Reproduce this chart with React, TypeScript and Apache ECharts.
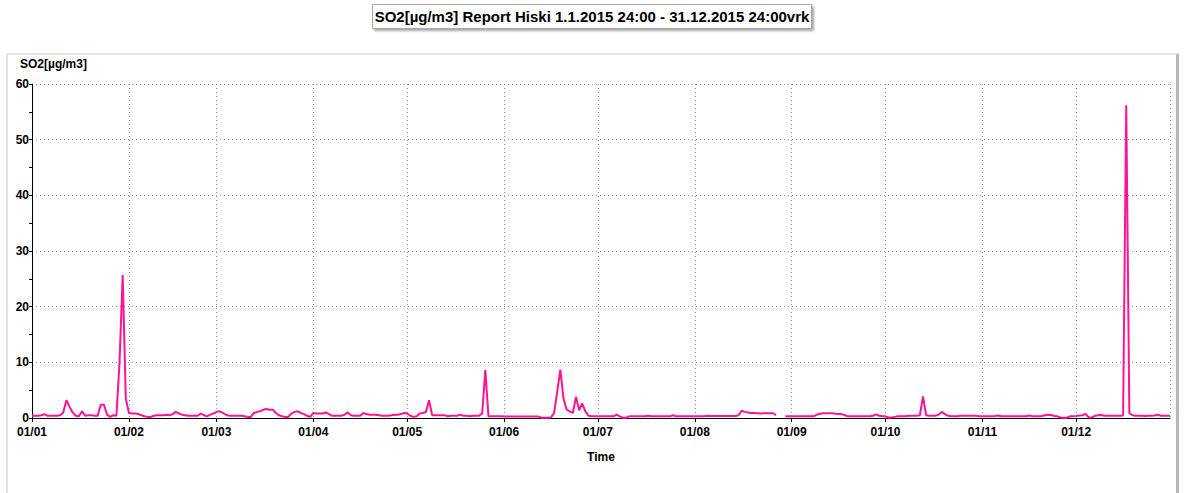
import React, { useEffect, useRef } from "react";
import * as echarts from "echarts";

const TITLE = "SO2[µg/m3] Report Hiski 1.1.2015 24:00 - 31.12.2015 24:00vrk";
const Y_NAME = "SO2[µg/m3]";
const X_NAME = "Time";
const YEAR = 2015;

const jan = [0.4, 0.4, 0.4, 0.5, 0.7, 0.4, 0.4, 0.4, 0.4, 0.5, 1.0, 3.2, 2.0, 1.0, 0.4, 0.3, 1.2, 0.4, 0.5, 0.5, 0.4, 0.4, 2.4, 2.4, 0.6, 0.2, 0.5, 0.4, 10, 25.7, 3.5];
const feb = [0.9, 0.8, 0.8, 0.7, 0.5, 0.3, 0.2, 0.2, 0.4, 0.5, 0.5, 0.5, 0.6, 0.5, 0.7, 1.1, 0.8, 0.6, 0.5, 0.4, 0.4, 0.4, 0.4, 0.8, 0.5, 0.3, 0.6, 0.8];
const mar = [1.1, 1.2, 0.9, 0.6, 0.4, 0.4, 0.4, 0.4, 0.4, 0.3, 0.2, 0.2, 0.9, 1.1, 1.2, 1.5, 1.6, 1.5, 1.5, 0.9, 0.5, 0.3, 0.2, 0.2, 0.8, 1.1, 1.2, 0.9, 0.7, 0.4, 0.2];
const apr = [0.9, 0.8, 0.8, 0.8, 1.0, 0.7, 0.4, 0.4, 0.4, 0.4, 0.6, 1.0, 0.5, 0.4, 0.4, 0.4, 0.9, 0.7, 0.6, 0.6, 0.6, 0.5, 0.4, 0.4, 0.4, 0.5, 0.6, 0.6, 0.7, 0.9];
const may = [0.8, 0.4, 0.2, 0.3, 0.8, 0.9, 1.1, 3.2, 0.5, 0.5, 0.5, 0.5, 0.5, 0.3, 0.4, 0.4, 0.4, 0.6, 0.4, 0.4, 0.3, 0.4, 0.4, 0.4, 0.8, 8.6, 0.3, 0.3, 0.3, 0.3, 0.3];
const jun = [0.25, 0.25, 0.25, 0.25, 0.25, 0.25, 0.25, 0.25, 0.25, 0.25, 0.25, 0.25, 0.05, 0.05, 0.05, 0.1, 0.9, 4.8, 8.7, 3.5, 1.5, 1.2, 0.9, 3.8, 1.4, 2.6, 1.2, 0.4, 0.3, 0.3];
const jul = [0.3, 0.3, 0.3, 0.3, 0.3, 0.3, 0.6, 0.3, 0.05, 0.05, 0.3, 0.3, 0.3, 0.3, 0.3, 0.3, 0.4, 0.3, 0.3, 0.3, 0.3, 0.3, 0.3, 0.3, 0.5, 0.3, 0.3, 0.3, 0.3, 0.3, 0.3];
const aug = [0.3, 0.3, 0.3, 0.3, 0.4, 0.35, 0.35, 0.35, 0.35, 0.35, 0.35, 0.35, 0.35, 0.35, 0.5, 1.3, 1.1, 1.0, 0.9, 0.9, 0.85, 0.8, 0.85, 0.85, 0.85, 0.85, 0.5, null, null, 0.3, 0.3];
const sep = [0.3, 0.3, 0.3, 0.3, 0.3, 0.3, 0.3, 0.3, 0.6, 0.75, 0.85, 0.85, 0.85, 0.85, 0.75, 0.7, 0.7, 0.5, 0.3, 0.3, 0.3, 0.3, 0.3, 0.3, 0.3, 0.3, 0.4, 0.65, 0.4, 0.3];
const oct = [0.3, 0.1, 0.1, 0.2, 0.3, 0.3, 0.3, 0.35, 0.4, 0.4, 0.4, 0.5, 3.9, 0.5, 0.4, 0.4, 0.4, 0.6, 1.1, 0.7, 0.4, 0.3, 0.3, 0.3, 0.4, 0.4, 0.4, 0.4, 0.4, 0.4, 0.3];
const nov = [0.3, 0.3, 0.3, 0.3, 0.35, 0.45, 0.3, 0.3, 0.3, 0.3, 0.3, 0.3, 0.3, 0.3, 0.3, 0.45, 0.3, 0.3, 0.3, 0.35, 0.5, 0.55, 0.55, 0.35, 0.3, 0.1, 0.05, 0.05, 0.3, 0.3];
const dec = [0.35, 0.45, 0.5, 0.75, 0.1, 0.1, 0.4, 0.5, 0.55, 0.4, 0.4, 0.4, 0.4, 0.4, 0.4, 0.45, 56.2, 0.9, 0.5, 0.4, 0.4, 0.4, 0.35, 0.4, 0.4, 0.45, 0.6, 0.4, 0.4, 0.4, 0.4];

const months: (number | null)[][] = [jan, feb, mar, apr, may, jun, jul, aug, sep, oct, nov, dec];

const Y_MIN = 0;
const Y_MAX = 60;
const Y_STEP = 10;

function buildData() {
  const out: [number, number | null][] = [];
  months.forEach((arr, m) => {
    arr.forEach((v, j) => {
      out.push([Date.UTC(YEAR, m, j + 1), v]);
    });
  });
  return out;
}

const pad = (n: number) => (n < 10 ? "0" + n : "" + n);

export default function App() {
  const ref = useRef<HTMLDivElement>(null);

  useEffect(() => {
    if (!ref.current) return;
    const chart = echarts.init(ref.current, null, { renderer: "svg" });
    const font = "Arial, 'Liberation Sans', sans-serif";
    chart.setOption({
      animation: false,
      useUTC: true,
      backgroundColor: "#ffffff",
      title: {
        text: TITLE,
        left: "center",
        top: 4,
        padding: [5, 2, 5, 2],
        backgroundColor: "#ffffff",
        borderColor: "#a8a8a8",
        borderWidth: 1,
        shadowColor: "rgba(0,0,0,0.35)",
        shadowBlur: 2,
        shadowOffsetX: 2,
        shadowOffsetY: 2,
        textStyle: {
          fontFamily: font,
          fontSize: 15,
          fontWeight: "bold",
          color: "#000",
        },
      },
      graphic: [
        {
          type: "rect",
          silent: true,
          z: -10,
          shape: { x: 7, y: 54, width: 1170, height: 460 },
          style: { fill: "none", stroke: "#e4e4e4", lineWidth: 2 },
        },
        {
          type: "rect",
          silent: true,
          z: -10,
          shape: { x: 1176, y: 54, width: 3, height: 440 },
          style: { fill: "#b8b8b8" },
        },
      ],
      grid: { left: 32, right: 14, top: 84, bottom: 75, containLabel: false },
      xAxis: {
        type: "time",
        min: Date.UTC(YEAR, 0, 1),
        max: Date.UTC(YEAR, 11, 31),
        splitNumber: 12,
        minInterval: 28 * 86400000,
        maxInterval: 31 * 86400000,
        name: X_NAME,
        nameLocation: "middle",
        nameGap: 33,
        nameTextStyle: { fontFamily: font, fontSize: 12, fontWeight: "bold", color: "#000" },
        axisLine: { show: true, lineStyle: { color: "#000", width: 1 } },
        axisTick: { show: true, length: 4, lineStyle: { color: "#000" } },
        axisLabel: {
          fontFamily: font,
          fontSize: 12,
          fontWeight: "bold",
          color: "#000",
          margin: 8,
          showMaxLabel: false,
          hideOverlap: false,
          formatter: (v: number) => {
            const d = new Date(v);
            return pad(d.getUTCDate()) + "/" + pad(d.getUTCMonth() + 1);
          },
        },
        splitLine: { show: true, lineStyle: { color: "#999999", width: 1, type: [1, 3] } },
      },
      yAxis: {
        type: "value",
        min: Y_MIN,
        max: Y_MAX,
        interval: Y_STEP,
        name: Y_NAME,
        nameLocation: "end",
        nameGap: 14,
        nameTextStyle: {
          fontFamily: font,
          fontSize: 12,
          fontWeight: "bold",
          color: "#000",
          align: "left",
          padding: [0, 0, 0, -12],
        },
        axisLine: { show: true, lineStyle: { color: "#000", width: 1 } },
        axisTick: { show: true, length: 3, lineStyle: { color: "#000" } },
        minorTick: { show: true, splitNumber: 2, length: 3, lineStyle: { color: "#000" } },
        axisLabel: {
          fontFamily: font,
          fontSize: 12,
          fontWeight: "bold",
          color: "#000",
          margin: 3,
        },
        splitLine: { show: true, lineStyle: { color: "#999999", width: 1, type: [1, 3] } },
      },
      series: [
        {
          type: "line",
          data: buildData(),
          showSymbol: false,
          connectNulls: false,
          lineStyle: { color: "#ff1493", width: 2 },
          itemStyle: { color: "#ff1493" },
        },
      ],
    });
    return () => chart.dispose();
  }, []);

  return (
    <div
      ref={ref}
      style={{ position: "fixed", left: 0, top: 0, width: 1184, height: 493 }}
    />
  );
}
